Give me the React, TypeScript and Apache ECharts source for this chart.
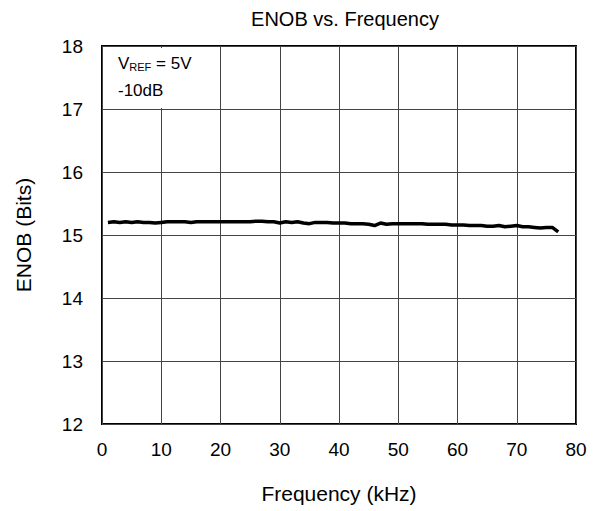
import React, { useEffect, useRef } from "react";
import * as echarts from "echarts";

const freqKHz = [1,2,3,4,5,6,7,8,9,10,11,12,13,14,15,16,17,18,19,20,21,22,23,24,25,26,27,28,29,30,31,32,33,34,35,36,37,38,39,40,41,42,43,44,45,46,47,48,49,50,51,52,53,54,55,56,57,58,59,60,61,62,63,64,65,66,67,68,69,70,71,72,73,74,75,76,77];
const enobBits = [15.20,15.21,15.20,15.21,15.20,15.21,15.20,15.20,15.19,15.20,15.21,15.21,15.21,15.21,15.20,15.21,15.21,15.21,15.21,15.21,15.21,15.21,15.21,15.21,15.21,15.22,15.22,15.21,15.21,15.19,15.21,15.20,15.21,15.19,15.18,15.20,15.20,15.20,15.19,15.19,15.19,15.18,15.18,15.18,15.17,15.15,15.19,15.17,15.18,15.18,15.18,15.18,15.18,15.18,15.17,15.17,15.17,15.17,15.16,15.16,15.16,15.15,15.15,15.15,15.14,15.14,15.15,15.13,15.14,15.15,15.13,15.13,15.12,15.11,15.12,15.12,15.05];
const xTicks = [0, 10, 20, 30, 40, 50, 60, 70, 80];
const yTicks = [12, 13, 14, 15, 16, 17, 18];

const FONT = "Liberation Sans, Arial, sans-serif";

export default function App() {
  const ref = useRef<HTMLDivElement>(null);
  useEffect(() => {
    const chart = echarts.init(ref.current!, undefined, { renderer: "svg" });
    chart.setOption({
      animation: false,
      backgroundColor: "#fff",
      title: {
        text: "ENOB vs. Frequency",
        left: 340,
        textAlign: "center",
        top: 4,
        textStyle: { fontFamily: FONT, fontSize: 20, fontWeight: "normal", color: "#000" },
      },
      grid: {
        left: 102,
        right: 21,
        top: 46,
        bottom: 87,
        show: true,
        borderColor: "#000",
        borderWidth: 2,
        backgroundColor: "transparent",
      },
      xAxis: {
        type: "value",
        min: xTicks[0],
        max: xTicks[xTicks.length - 1],
        interval: 10,
        name: "Frequency (kHz)",
        nameLocation: "middle",
        nameGap: 59,
        nameTextStyle: { fontFamily: FONT, fontSize: 21, color: "#000" },
        axisLine: { show: false },
        axisTick: { show: false },
        axisLabel: { fontFamily: FONT, fontSize: 19, color: "#000", margin: 16 },
        splitLine: { show: true, lineStyle: { color: "#444", width: 1 } },
      },
      yAxis: {
        type: "value",
        min: yTicks[0],
        max: yTicks[yTicks.length - 1],
        interval: 1,
        name: "ENOB (Bits)",
        nameLocation: "middle",
        nameGap: 68,
        nameTextStyle: { fontFamily: FONT, fontSize: 21, color: "#000" },
        axisLine: { show: false },
        axisTick: { show: false },
        axisLabel: { fontFamily: FONT, fontSize: 19, color: "#000", margin: 19 },
        splitLine: { show: true, lineStyle: { color: "#444", width: 1 } },
      },
      graphic: [
        {
          type: "rect",
          shape: { x: 104, y: 48, width: 94, height: 60 },
          style: { fill: "#fff" },
          z: 50,
        },
        {
          type: "text",
          left: 118,
          top: 55,
          z: 51,
          style: {
            text: "{v|V}{s|REF}{v| = 5V}\n{v|-10dB}",
            rich: {
              v: { fontFamily: FONT, fontSize: 17, color: "#000", lineHeight: 27, verticalAlign: "bottom" },
              s: { fontFamily: FONT, fontSize: 11, color: "#000", lineHeight: 20, verticalAlign: "bottom" },
            },
          },
        },
      ],
      series: [
        {
          type: "line",
          data: freqKHz.map((f, i) => [f, enobBits[i]]),
          showSymbol: false,
          lineStyle: { color: "#000", width: 3.5 },
          smooth: false,
        },
      ],
    });
    return () => chart.dispose();
  }, []);
  return <div ref={ref} style={{ width: 597, height: 511, position: "absolute", left: 0, top: 0 }} />;
}
